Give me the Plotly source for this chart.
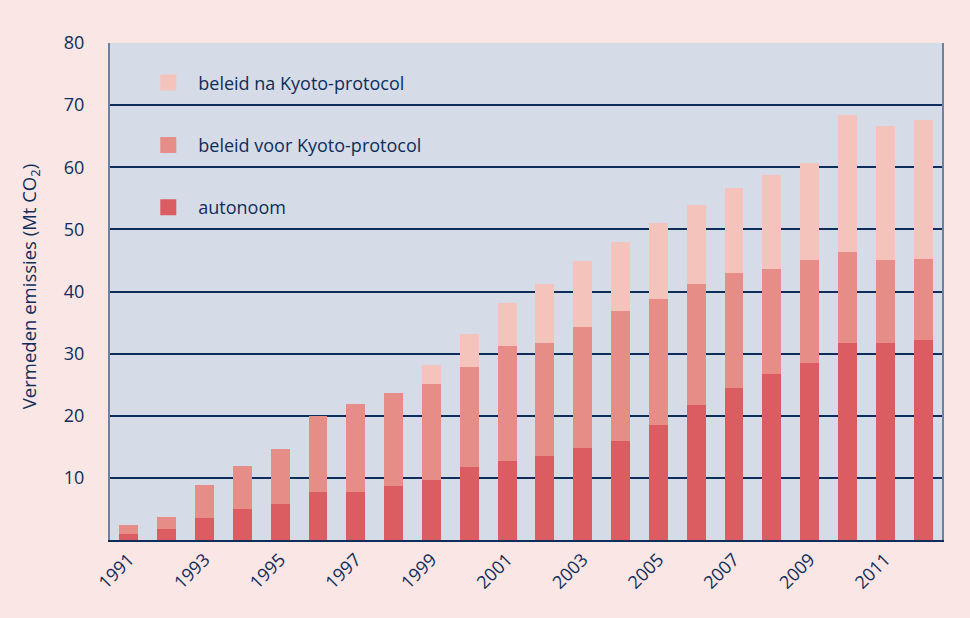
import plotly.graph_objects as go

years = list(range(1991, 2013))
autonoom = [1.0, 1.8, 3.5, 5.0, 5.8, 7.7, 7.7, 8.7, 9.7, 11.8, 12.7, 13.5, 14.8, 16.0, 18.5, 21.7, 24.5, 26.7, 28.5, 31.7, 31.7, 32.2]
voor_kyoto = [1.4, 1.9, 5.4, 6.9, 8.8, 12.3, 14.2, 14.9, 15.4, 16.1, 18.5, 18.2, 19.5, 20.9, 20.3, 19.5, 18.5, 16.9, 16.6, 14.7, 13.4, 13.0]
na_kyoto = [0, 0, 0, 0, 0, 0, 0, 0, 3.1, 5.3, 7.0, 9.5, 10.6, 11.1, 12.2, 12.7, 13.7, 15.2, 15.6, 22.0, 21.6, 22.4]
x_ticks = list(range(1991, 2013, 2))
y_ticks = [10, 20, 30, 40, 50, 60, 70, 80]

names = ["autonoom", "beleid voor Kyoto-protocol", "beleid na Kyoto-protocol"]
colors = ["#db5c61", "#e68d88", "#f4c3bb"]
series = [autonoom, voor_kyoto, na_kyoto]

NAVY = "#0f2d5a"
FONT = "Open Sans"

fig = go.Figure()
for name, col, vals in zip(names, colors, series):
    fig.add_trace(go.Bar(x=years, y=vals, name=name, marker_color=col,
                         marker_line_width=0, showlegend=False))

# legend entries (larger square symbols)
for i, (name, col) in enumerate(reversed(list(zip(names, colors)))):
    fig.add_trace(go.Scatter(x=[None], y=[None], mode="markers", name=name,
                             legendgroup="g%d" % i,
                             marker=dict(symbol="square", size=19, color=col)))

fig.update_layout(
    width=970, height=618,
    barmode="stack", bargap=0.5,
    paper_bgcolor="#fae6e4", plot_bgcolor="#d5dce8",
    margin=dict(l=110, r=28, t=43, b=78, autoexpand=False),
    font=dict(family=FONT, color=NAVY, size=18),
    legend=dict(x=0.034, y=0.957, xanchor="left", yanchor="top",
                bgcolor="rgba(0,0,0,0)", tracegroupgap=36, itemwidth=50,
                itemsizing="trace", font=dict(size=18, color=NAVY)),
    xaxis=dict(range=[1990.5, 2012.5], tickvals=x_ticks, ticktext=[str(v) for v in x_ticks],
               tickangle=-45, showgrid=False, showline=True, linecolor=NAVY, linewidth=2,
               ticks="", tickfont=dict(size=18, color=NAVY), zeroline=False),
    yaxis=dict(range=[0, 80], tickvals=y_ticks, showgrid=True, gridcolor=NAVY, gridwidth=1.5,
               showline=True, mirror=True, linecolor="#6f81a0", linewidth=2, ticks="",
               ticklabelstandoff=20,
               zeroline=False, tickfont=dict(size=18, color=NAVY)),
    annotations=[dict(text="Vermeden emissies (Mt CO<sub>2</sub>)", xref="paper", yref="paper",
                      x=-0.096, y=0.509, xanchor="center", yanchor="middle", textangle=-90,
                      showarrow=False, font=dict(size=18.5, color=NAVY, family=FONT))],
)

fig.write_html("out.html", config={"displayModeBar": False},
               post_script="document.body.style.margin='0px';")
